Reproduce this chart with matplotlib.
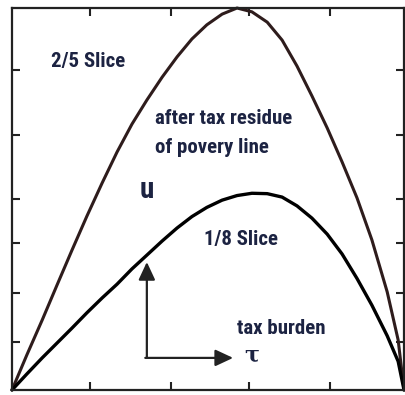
import matplotlib
matplotlib.use('Agg')
import matplotlib.pyplot as plt

# curve values (both axes run 0..1)
grid_x = [0, 0.038, 0.077, 0.115, 0.153, 0.191, 0.230, 0.268, 0.306, 0.344, 0.383,
          0.421, 0.459, 0.497, 0.536, 0.574, 0.612, 0.651, 0.689, 0.727, 0.765,
          0.804, 0.842, 0.880, 0.918, 0.957, 0.985, 1.0]

# 2/5 slice
upper_y = [0, 0.092, 0.183, 0.275, 0.366, 0.455, 0.542, 0.623, 0.696, 0.759, 0.819,
           0.872, 0.919, 0.956, 0.984, 1.0, 0.990, 0.963, 0.916, 0.848, 0.770,
           0.686, 0.597, 0.503, 0.393, 0.257, 0.131, 0]

# 1/8 slice
lower_y = [0, 0.042, 0.084, 0.123, 0.162, 0.202, 0.241, 0.277, 0.317, 0.353, 0.390,
           0.424, 0.454, 0.478, 0.497, 0.509, 0.515, 0.514, 0.505, 0.482, 0.450,
           0.408, 0.356, 0.292, 0.222, 0.142, 0.075, 0]

xticks = [0.2, 0.405, 0.605, 0.81]
yticks = [0.126, 0.254, 0.385, 0.5, 0.668, 0.838]

txtcol = '#1c2342'
fam = ['Roboto Condensed', 'DejaVu Sans']
fs = 15

fig = plt.figure(figsize=(4.05, 3.95), dpi=100)
ax = fig.add_axes([0.0296, 0.0127, 0.968, 0.967])

ax.plot(grid_x, upper_y, color='#2e1c1c', lw=2.2, clip_on=False, solid_capstyle='round')
ax.plot(grid_x, lower_y, color='black', lw=2.4, clip_on=False, solid_capstyle='round')

ax.set_xlim(0, 1)
ax.set_ylim(0, 1)
ax.set_xticks(xticks)
ax.set_yticks(yticks)
ax.tick_params(direction='in', length=6, width=1.5, top=True, right=True,
               labelbottom=False, labelleft=False, color='#222222')
for s in ax.spines.values():
    s.set_linewidth(1.6)
    s.set_color('#222222')

ax.text(0.194, 0.859, '2/5 Slice', ha='center', va='center', fontsize=fs,
        fontweight='bold', color=txtcol, family=fam)
ax.text(0.365, 0.712, 'after tax residue', ha='left', va='center', fontsize=fs,
        fontweight='bold', color=txtcol, family=fam)
ax.text(0.365, 0.636, 'of povery line', ha='left', va='center', fontsize=fs,
        fontweight='bold', color=txtcol, family=fam)
ax.text(0.344, 0.524, 'u', ha='center', va='center', fontsize=21,
        fontweight='bold', color=txtcol, family=fam)
ax.text(0.584, 0.393, '1/8 Slice', ha='center', va='center', fontsize=fs,
        fontweight='bold', color=txtcol, family=fam)
ax.text(0.686, 0.162, 'tax burden', ha='center', va='center', fontsize=fs,
        fontweight='bold', color=txtcol, family=fam)
ax.text(0.612, 0.089, 'τ', ha='center', va='center', fontsize=16,
        fontweight='bold', color=txtcol, family=['DejaVu Serif'])

# little axes arrows
arrow = dict(arrowstyle='-|>,head_length=0.6,head_width=0.28', color='#222222',
             lw=1.6, shrinkA=0, shrinkB=0, mutation_scale=18)
ax.annotate('', xy=(0.344, 0.335), xytext=(0.344, 0.084), arrowprops=arrow)
ax.annotate('', xy=(0.564, 0.084), xytext=(0.34, 0.084), arrowprops=arrow)

fig.savefig('out.png', dpi=100)
